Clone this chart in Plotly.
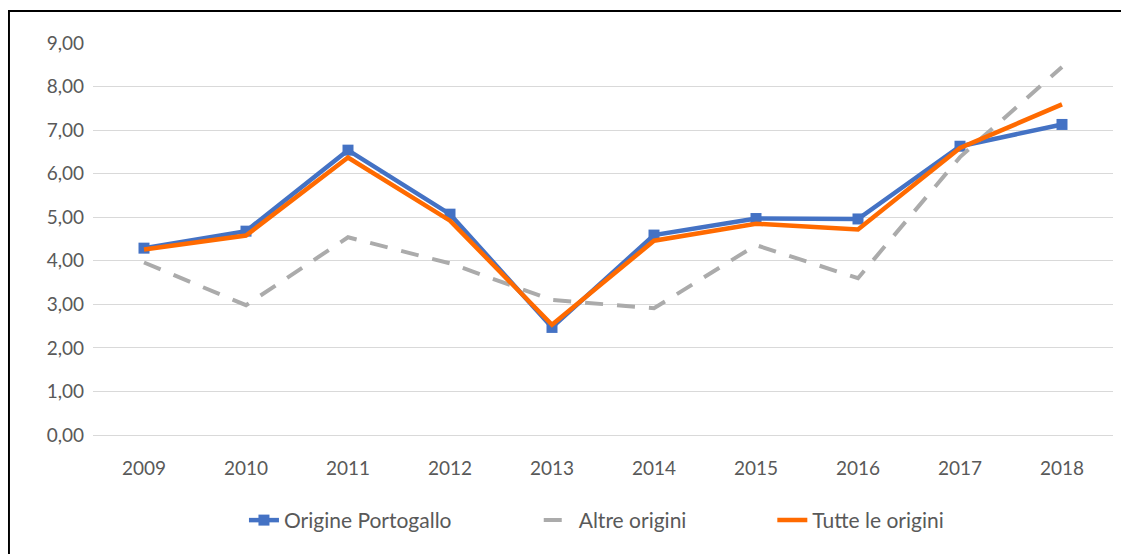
import plotly.graph_objects as go

years = ["2009", "2010", "2011", "2012", "2013", "2014", "2015", "2016", "2017", "2018"]
origine_portogallo = [4.29, 4.68, 6.54, 5.07, 2.47, 4.59, 4.97, 4.96, 6.63, 7.13]
altre_origini = [3.96, 2.98, 4.54, 3.94, 3.10, 2.91, 4.36, 3.60, 6.38, 8.45]
tutte_le_origini = [4.26, 4.58, 6.37, 4.92, 2.53, 4.46, 4.85, 4.72, 6.59, 7.59]
y_ticks = [0, 1, 2, 3, 4, 5, 6, 7, 8, 9]

FONT = "Lato, 'Open Sans', sans-serif"
TXT = "#595959"

fig = go.Figure()
fig.add_trace(go.Scatter(
    x=years, y=origine_portogallo, name="Origine Portogallo",
    mode="lines+markers", legend="legend",
    line=dict(color="#4472C4", width=4.5),
    marker=dict(symbol="square", size=11, color="#4472C4"),
))
fig.add_trace(go.Scatter(
    x=years, y=altre_origini, name="Altre origini",
    mode="lines", legend="legend2",
    line=dict(color="#ABABAB", width=4, dash="18px,14px"),
))
fig.add_trace(go.Scatter(
    x=years, y=tutte_le_origini, name="Tutte le origini",
    mode="lines", legend="legend3",
    line=dict(color="#FF6A00", width=4.5),
))

def leg(xpos):
    return dict(
        orientation="h", x=xpos, xanchor="left", y=-0.218, yanchor="middle",
        font=dict(family=FONT, size=21, color=TXT),
        itemwidth=30, bgcolor="rgba(0,0,0,0)",
    )

fig.update_layout(
    width=1121, height=546,
    margin=dict(l=85, r=16, t=35, b=119),
    paper_bgcolor="white", plot_bgcolor="white",
    separators=",.",
    font=dict(family=FONT, size=19, color=TXT),
    showlegend=True,
    legend=leg(0.148),
    legend2=leg(0.437),
    legend3=leg(0.666),
    xaxis=dict(
        type="category", range=[-0.5, 9.5], showgrid=False,
        showline=False, zeroline=False, ticks="", ticklabelstandoff=20,
        tickfont=dict(family=FONT, size=19, color=TXT),
    ),
    yaxis=dict(
        range=[0, 9], tickvals=y_ticks, tickformat=".2f",
        showgrid=True, gridcolor="#D9D9D9", gridwidth=1.3,
        zeroline=True, zerolinecolor="#D9D9D9", zerolinewidth=1.3,
        showline=False, ticks="", ticklabelstandoff=8,
        tickfont=dict(family=FONT, size=19, color=TXT),
    ),
    shapes=[dict(
        type="rect", xref="paper", yref="paper",
        x0=-0.0824, x1=1.03, y0=-0.6, y1=1.0816,
        line=dict(color="black", width=2), fillcolor="rgba(0,0,0,0)",
        layer="below",
    )],
)

fig.write_html("out.html")
